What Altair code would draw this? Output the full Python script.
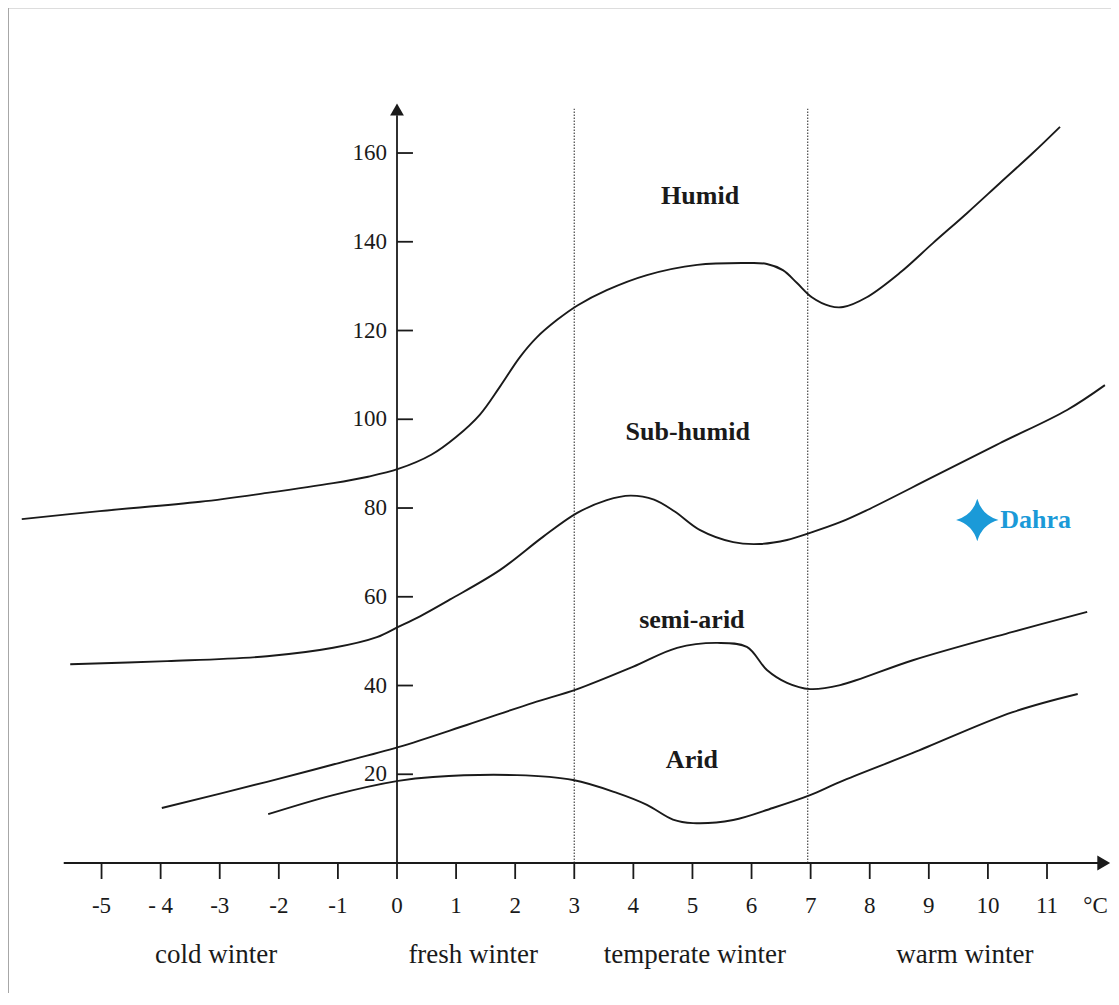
import altair as alt
import pandas as pd

# ---- boundary curves: mean minimum temperature of coldest month (°C) vs Q2 ----
humid_x = [-6.35, -5.03, -3.33, -2.20, -1.08, -0.51, 0.02, 0.58, 1.00, 1.40, 1.74, 2.08, 2.37, 2.71,
           3.06, 3.55, 4.23, 5.08, 5.92, 6.26, 6.53, 6.77, 7.02, 7.33, 7.55, 7.95, 8.51, 9.07,
           9.65, 10.20, 10.76, 11.22]
humid_y = [77.5, 79.3, 81.4, 83.4, 85.6, 87.0, 88.8, 92.0, 96.0, 101.0, 107.3, 114.0, 118.5, 122.4,
           125.7, 129.1, 132.5, 134.8, 135.2, 135.0, 133.6, 130.7, 127.5, 125.5, 125.3, 127.5, 133.0, 139.7,
           146.5, 153.2, 160.0, 165.9]

subhumid_x = [-5.53, -3.89, -2.20, -1.08, -0.34, 0.02, 0.39, 0.90, 1.74, 2.47, 3.05, 3.55, 3.95,
              4.35, 4.70, 5.13, 5.69, 6.14, 6.60, 6.99, 7.50, 7.95, 9.07, 10.20, 11.34, 11.98]
subhumid_y = [44.8, 45.5, 46.6, 48.5, 50.9, 53.2, 55.6, 59.4, 66.0, 73.5, 78.9, 81.8, 82.8,
              81.9, 79.2, 75.0, 72.3, 71.9, 72.8, 74.4, 76.8, 79.5, 87.0, 94.6, 102.1, 107.7]

semiarid_x = [-3.98, -2.20, -1.08, 0.02, 1.18, 2.30, 3.05, 3.99, 4.74, 5.42, 5.92, 6.26, 6.60,
              6.99, 7.50, 8.73, 10.42, 11.68]
semiarid_y = [12.4, 18.3, 22.2, 26.1, 31.1, 36.1, 39.2, 44.2, 48.5, 49.6, 48.7, 43.5, 40.6,
              39.2, 40.1, 45.7, 52.1, 56.6]

arid_x = [-2.18, -1.08, 0.02, 0.61, 2.03, 2.98, 3.72, 4.23, 4.67, 5.01, 5.69, 6.36, 6.99, 7.50,
          8.73, 10.42, 11.52]
arid_y = [11.0, 15.3, 18.5, 19.4, 19.8, 18.7, 15.8, 13.1, 9.8, 9.0, 9.7, 12.4, 15.3, 18.3,
          24.8, 34.0, 38.1]

# ---- axes ----
x_ticks = [-5, -4, -3, -2, -1, 0, 1, 2, 3, 4, 5, 6, 7, 8, 9, 10, 11]
x_tick_labels = ["-5", "- 4", "-3", "-2", "-1", "0", "1", "2", "3", "4", "5", "6", "7", "8", "9", "10", "11"]
y_ticks = [20, 40, 60, 80, 100, 120, 140, 160]
y_tick_labels = ["20", "40", "60", "80", "100", "120", "140", "160"]
x_unit_label = "°C"

# ---- winter-type boundaries (dotted) ----
winter_bounds = [3.0, 6.95]

# ---- zone labels ----
zone_names = ["Humid", "Sub-humid", "semi-arid", "Arid"]
zone_x = [5.13, 4.92, 4.99, 4.99]
zone_y = [150.4, 97.1, 54.8, 23.2]

winter_names = ["cold winter", "fresh winter", "temperate winter", "warm winter"]
winter_x = [-3.06, 1.29, 5.04, 9.61]

# ---- station ----
station_name = ["Dahra"]
station_x = [9.82]
station_y = [77.3]

# ---- scales (pixel geometry) ----
W, H = 1103, 985
xmin, xmax = -6.583, 12.083
ymin, ymax = -29.29, 192.68
xs = alt.Scale(domain=[xmin, xmax], nice=False, zero=False)
ys = alt.Scale(domain=[ymin, ymax], nice=False, zero=False)
X = lambda f: alt.X(f, type="quantitative", scale=xs, axis=None)
Y = lambda f: alt.Y(f, type="quantitative", scale=ys, axis=None)

serif = "Liberation Serif"
ink = "#1a1a1a"

rows = []
for name, cx, cy in [("humid", humid_x, humid_y), ("subhumid", subhumid_x, subhumid_y),
                     ("semiarid", semiarid_x, semiarid_y), ("arid", arid_x, arid_y)]:
    for i, (a, b) in enumerate(zip(cx, cy)):
        rows.append({"curve": name, "i": i, "t": a, "q": b})
curves_df = pd.DataFrame(rows)

curves = alt.Chart(curves_df).mark_line(color=ink, strokeWidth=1.9, interpolate="catmull-rom").encode(
    x=X("t"), y=Y("q"), detail="curve:N", order="i:Q")

# frame line on the left (scan border)
frame = alt.Chart(pd.DataFrame({"x": [xmin + 0.001]})).mark_rule(color="#9a9a9a", strokeWidth=1.5).encode(
    x=X("x"), y=alt.value(0), y2=alt.value(H))

# axes lines
xaxis = alt.Chart(pd.DataFrame({"x": [-5.64], "x2": [11.9], "y": [0]})).mark_rule(
    color=ink, strokeWidth=1.8).encode(x=X("x"), x2="x2", y=Y("y"))
yaxis = alt.Chart(pd.DataFrame({"x": [0], "y": [0], "y2": [168.5]})).mark_rule(
    color=ink, strokeWidth=1.8).encode(x=X("x"), y=Y("y"), y2="y2")

xtick_df = pd.DataFrame({"t": x_ticks, "lab": x_tick_labels, "y0": 0.0, "y1": -3.6, "ly": -9.7})
xtick_marks = alt.Chart(xtick_df).mark_rule(color=ink, strokeWidth=1.8).encode(
    x=X("t"), y=Y("y0"), y2="y1")
xtick_text = alt.Chart(xtick_df).mark_text(font=serif, fontSize=23, color=ink, baseline="middle").encode(
    x=X("t"), y=Y("ly"), text="lab:N")

ytick_df = pd.DataFrame({"q": y_ticks, "lab": y_tick_labels, "x0": 0.0, "x1": 0.27, "lx": -0.17})
ytick_marks = alt.Chart(ytick_df).mark_rule(color=ink, strokeWidth=1.8).encode(
    x=X("x0"), x2="x1", y=Y("q"))
ytick_text = alt.Chart(ytick_df).mark_text(font=serif, fontSize=23, color=ink, align="right",
                                           baseline="middle").encode(
    x=X("lx"), y=Y("q"), text="lab:N")

unit_text = alt.Chart(pd.DataFrame({"x": [11.82], "y": [-9.7], "lab": [x_unit_label]})).mark_text(
    font=serif, fontSize=23, color=ink, baseline="middle").encode(x=X("x"), y=Y("y"), text="lab:N")

# arrows
yarrow = alt.Chart(pd.DataFrame({"x": [0], "y": [169.8]})).mark_point(
    shape="triangle-up", filled=True, size=190, color=ink, opacity=1).encode(x=X("x"), y=Y("y"))
xarrow = alt.Chart(pd.DataFrame({"x": [11.96], "y": [0]})).mark_point(
    shape="triangle-right", filled=True, size=220, color=ink, opacity=1).encode(x=X("x"), y=Y("y"))

# dotted vertical boundaries
bounds_df = pd.DataFrame({"x": winter_bounds, "y0": 0.0, "y1": 170.0})
bounds = alt.Chart(bounds_df).mark_rule(color="#555555", strokeWidth=1.3, strokeDash=[1.5, 1.5]).encode(
    x=X("x"), y=Y("y0"), y2="y1")

# zone labels
zones_df = pd.DataFrame({"x": zone_x, "y": zone_y, "lab": zone_names})
zones = alt.Chart(zones_df).mark_text(font=serif, fontSize=26, fontWeight="bold", color=ink,
                                      baseline="middle").encode(x=X("x"), y=Y("y"), text="lab:N")

winter_df = pd.DataFrame({"x": winter_x, "y": [-20.7] * 4, "lab": winter_names})
winters = alt.Chart(winter_df).mark_text(font=serif, fontSize=27, color=ink, baseline="middle").encode(
    x=X("x"), y=Y("y"), text="lab:N")

# station
star_path = ("M0,-1 Q0.22,-0.22 1,0 Q0.22,0.22 0,1 Q-0.22,0.22 -1,0 Q-0.22,-0.22 0,-1 Z")
st_df = pd.DataFrame({"x": station_x, "y": station_y, "lab": station_name})
star = alt.Chart(st_df).mark_point(shape=star_path, filled=True, size=1800, color="#1b9ad8",
                                   opacity=1).encode(x=X("x"), y=Y("y"))
st_text = alt.Chart(st_df).mark_text(font=serif, fontSize=26, fontWeight="bold", color="#1b9ad8",
                                     align="left", baseline="middle", dx=23).encode(
    x=X("x"), y=Y("y"), text="lab:N")

chart = alt.layer(
    frame, bounds, xaxis, yaxis, xtick_marks, ytick_marks, curves, xtick_text, ytick_text, unit_text,
    yarrow, xarrow, zones, winters, star, st_text
).properties(
    width=W, height=H, padding=0, autosize=alt.AutoSizeParams(type="none")
).configure_view(stroke=None).configure(background="white")

chart.save("out.html", embed_options={"renderer": "svg", "actions": False})
